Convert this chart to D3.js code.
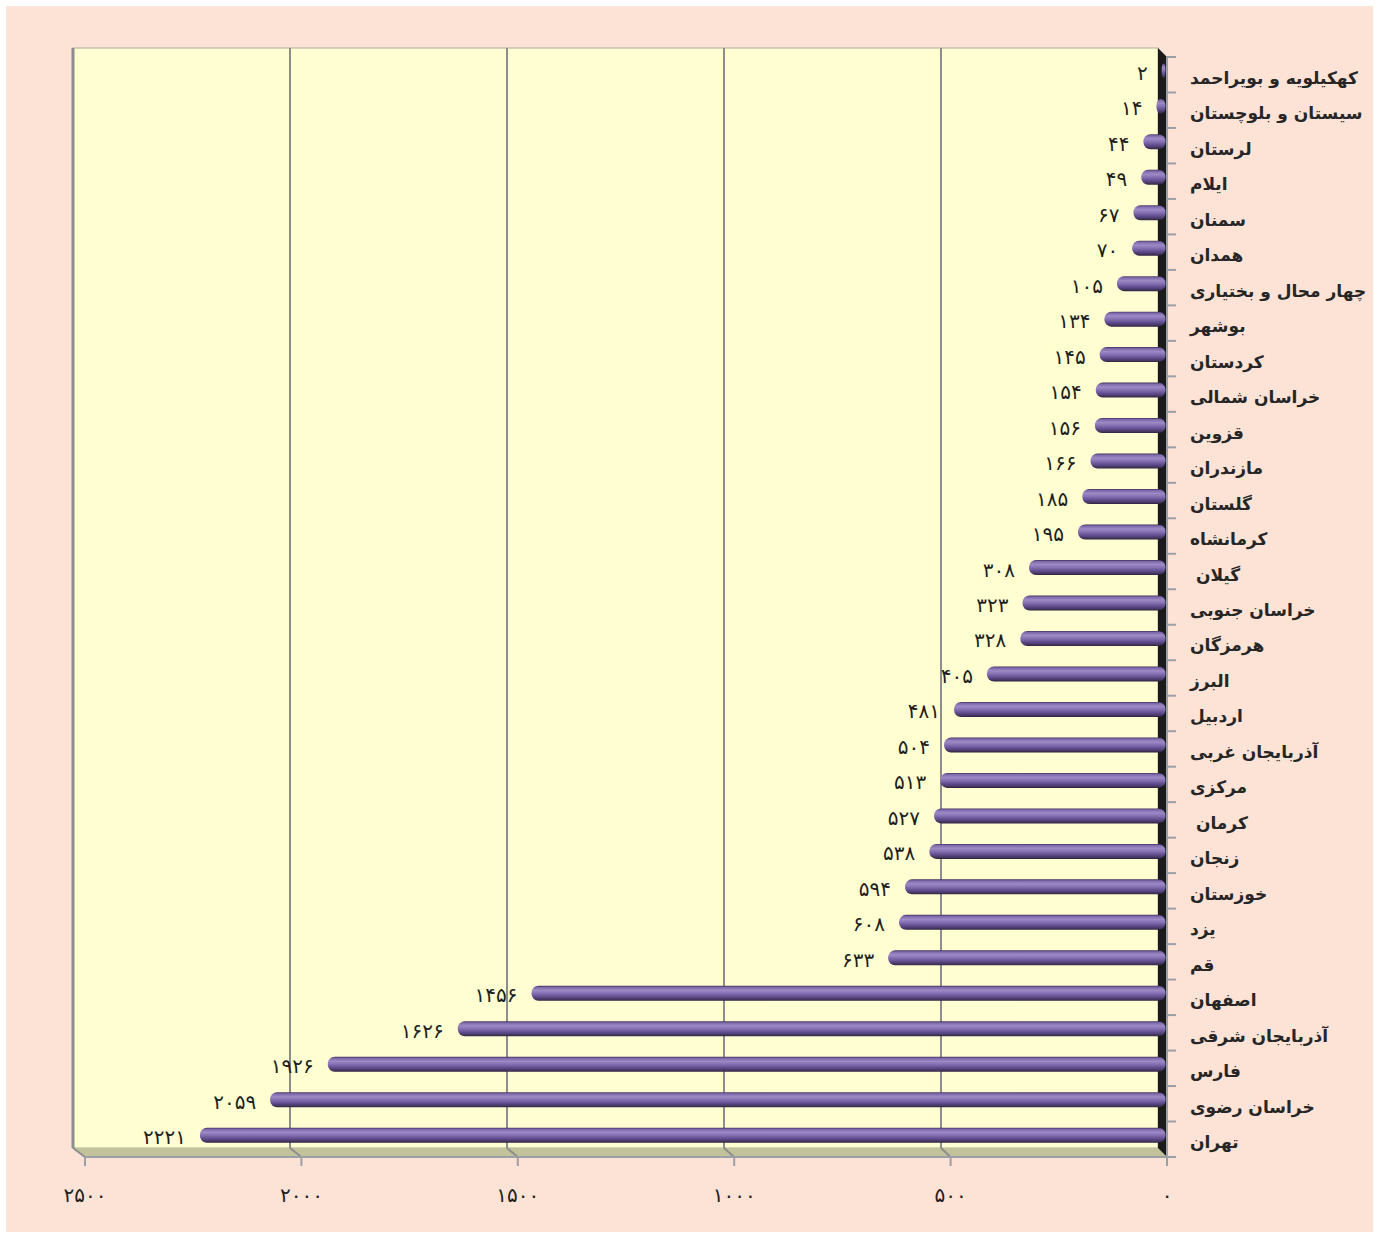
<!DOCTYPE html>
<html lang="fa">
<head>
<meta charset="utf-8">
<script src="https://cdn.jsdelivr.net/npm/d3@7"></script>
<style>
  html, body { margin: 0; padding: 0; background: #ffffff; }
  svg { display: block; }
  .cat { font-family: "DejaVu Sans", sans-serif; font-weight: bold; font-size: 17px; fill: #262626; white-space: pre; }
  .val { font-family: "DejaVu Sans", sans-serif; font-size: 20px; fill: #1e1e1e; }
  .tick { font-family: "DejaVu Sans", sans-serif; font-size: 20px; fill: #1e1e1e; }
</style>
</head>
<body>
<svg id="chart" width="1379" height="1238"></svg>
<script>
// Provinces, top to bottom
const provinces = [
  "کهکیلویه و بویراحمد", "سیستان و بلوچستان", "لرستان", "ایلام", "سمنان", "همدان",
  "چهار محال و بختیاری", "بوشهر", "کردستان", "خراسان شمالی", "قزوین", "مازندران",
  "گلستان", "کرمانشاه", "\u00a0گیلان", "خراسان جنوبی", "هرمزگان", "البرز", "اردبیل",
  "آذربایجان غربی", "مرکزی", "\u00a0کرمان", "زنجان", "خوزستان", "یزد", "قم",
  "اصفهان", "آذربایجان شرقی", "فارس", "خراسان رضوی", "تهران"
];
const counts = [
  2, 14, 44, 49, 67, 70,
  105, 134, 145, 154, 156, 166,
  185, 195, 308, 323, 328, 405, 481,
  504, 513, 527, 538, 594, 608, 633,
  1456, 1626, 1926, 2059, 2221
];
const xTicks = [0, 500, 1000, 1500, 2000, 2500];

const persianDigits = "۰۱۲۳۴۵۶۷۸۹";
const fa = n => String(n).replace(/\d/g, d => persianDigits[+d]);

const svg = d3.select("#chart");

// Page panel
svg.append("rect").attr("x", 6).attr("y", 6).attr("width", 1367).attr("height", 1226)
  .attr("fill", "#fde2d6");

// 3D depth: back wall plane, front plane and the mid plane where the bars sit
const wallTop = 48, wallBottom = 1148, frontBottom = 1157, dy = 9;
const xBack  = d3.scaleLinear().domain([0, 2500]).range([1158, 73]);
const xFront = d3.scaleLinear().domain([0, 2500]).range([1167, 85]);
const xBar   = d3.scaleLinear().domain([0, 2500]).range([1162.5, 79]);
const y = d3.scaleBand().domain(d3.range(provinces.length)).range([wallTop + dy, frontBottom]).paddingInner(0);

const defs = svg.append("defs");
const grad = defs.append("linearGradient").attr("id", "barGrad")
  .attr("x1", 0).attr("y1", 0).attr("x2", 0).attr("y2", 1);
[[0, "#3f3160"], [0.1, "#7d69aa"], [0.3, "#9d8ac5"], [0.5, "#8470b2"],
 [0.75, "#5d4a8a"], [0.9, "#45365f"], [1, "#2c2240"]]
  .forEach(([o, c]) => grad.append("stop").attr("offset", o).attr("stop-color", c));

// Back wall
svg.append("rect").attr("x", xBack(2500)).attr("y", wallTop)
  .attr("width", xBack(0) - xBack(2500)).attr("height", wallBottom - wallTop)
  .attr("fill", "#ffffd1").attr("stroke", "#b0a8a0").attr("stroke-width", 1);

// Floor
svg.append("polygon")
  .attr("points", [[xBack(2500), wallBottom], [xBack(0), wallBottom], [xFront(0), frontBottom], [xFront(2500), frontBottom]].join(" "))
  .attr("fill", "#c3c39b");

// Vertical gridlines on wall and floor
xTicks.filter(t => t > 0).forEach(t => {
  svg.append("line").attr("x1", xBack(t)).attr("x2", xBack(t)).attr("y1", wallTop).attr("y2", wallBottom)
    .attr("stroke", "#8d8d8d").attr("stroke-width", t === 2500 ? 3 : 2);
  svg.append("line").attr("x1", xBack(t)).attr("x2", xFront(t)).attr("y1", wallBottom).attr("y2", frontBottom)
    .attr("stroke", "#8d8d8d").attr("stroke-width", 2);
});

// Dark side wall at zero
svg.append("polygon")
  .attr("points", [[xBack(0), wallTop], [xFront(0), wallTop + dy], [xFront(0), frontBottom], [xBack(0), wallBottom]].join(" "))
  .attr("fill", "#1b1b1b");

// Floor front edge and bottom axis ticks
svg.append("line").attr("x1", xFront(2500)).attr("x2", xFront(0)).attr("y1", frontBottom).attr("y2", frontBottom)
  .attr("stroke", "#9aa0a6").attr("stroke-width", 2);
xTicks.forEach(t => {
  svg.append("line").attr("x1", xFront(t)).attr("x2", xFront(t)).attr("y1", frontBottom).attr("y2", frontBottom + 9)
    .attr("stroke", "#9aa0a6").attr("stroke-width", 2);
  svg.append("text").attr("class", "tick").attr("x", xFront(t)).attr("y", 1202)
    .attr("text-anchor", "middle").text(fa(t));
});

// Category axis on the right
svg.append("line").attr("x1", xFront(0)).attr("x2", xFront(0)).attr("y1", wallTop + dy).attr("y2", frontBottom)
  .attr("stroke", "#9aa0a6").attr("stroke-width", 2);
d3.range(provinces.length + 1).forEach(i => {
  const yy = i < provinces.length ? y(i) : frontBottom;
  svg.append("line").attr("x1", xFront(0)).attr("x2", xFront(0) + 9).attr("y1", yy).attr("y2", yy)
    .attr("stroke", "#9aa0a6").attr("stroke-width", 2);
});

// Bars
const barH = 15;
const barMid = i => y(i) + y.bandwidth() / 2 - 4;
svg.append("g").selectAll("rect").data(counts).join("rect")
  .attr("x", d => xBar(d))
  .attr("y", (d, i) => barMid(i) - barH / 2)
  .attr("width", d => xBar(0) + 3 - xBar(d))
  .attr("height", barH)
  .attr("rx", 7).attr("ry", 7)
  .attr("fill", "url(#barGrad)");

// Value labels
svg.append("g").selectAll("text").data(counts).join("text")
  .attr("class", "val")
  .attr("x", d => xBar(d) - 14)
  .attr("y", (d, i) => barMid(i) + 9)
  .attr("text-anchor", "end")
  .text(d => fa(d));

// Province names
svg.append("g").selectAll("text").data(provinces).join("text")
  .attr("class", "cat")
  .attr("x", 1190)
  .attr("y", (d, i) => y(i) + y.bandwidth() / 2 + 9)
  .text(d => d);
</script>
</body>
</html>
